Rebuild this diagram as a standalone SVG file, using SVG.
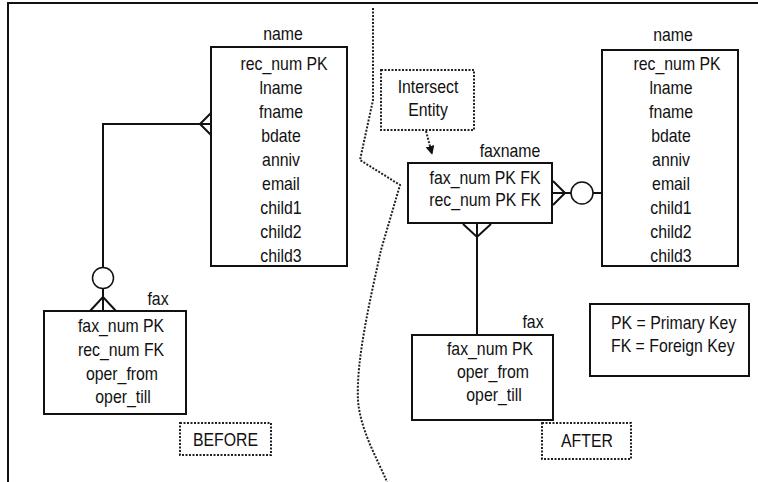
<svg xmlns="http://www.w3.org/2000/svg" width="758" height="482" viewBox="0 0 758 482">
<style>
text{font-family:"Liberation Sans",Arial,sans-serif;font-size:18px;fill:#111;transform-box:fill-box;transform-origin:center;transform:scaleX(0.88);}
.c{text-anchor:middle;}
.l{transform-origin:left center;}
.box{fill:#fff;stroke:#111;stroke-width:2;}
.dot{fill:none;stroke:#222;stroke-width:2;stroke-dasharray:2 1.5;}
.ln{fill:none;stroke:#111;stroke-width:2;}
.circ{fill:#fff;stroke:#111;stroke-width:1.5;}
</style>
<defs>
<marker id="ah" viewBox="0 0 10 10" refX="9" refY="5" markerWidth="9" markerHeight="9" markerUnits="userSpaceOnUse" orient="auto">
<path d="M0,0 L10,5 L0,10 z" fill="#111"/>
</marker>
</defs>
<rect width="758" height="482" fill="#fff"/>
<path class="ln" d="M8,482 V3 H758"/>
<path id="divider" class="dot" d="M373,8 L373,100 L360,160 L400,185 L381,250 C370,300 356,360 358,400 C360,430 378,460 387,482"/>

<g id="connectors">
<path class="ln" d="M211,124 H103 V311"/>
<path class="ln" d="M211,113 L200,124 L211,135"/>
<circle class="circ" cx="103" cy="278" r="10.5"/>
<path class="ln" d="M90,311 L103,297 L116,311"/>
<path class="ln" d="M552,193 H602"/>
<path class="ln" d="M553,181 L565,193 L553,205"/>
<circle class="circ" cx="582" cy="193" r="11"/>
<path class="ln" d="M477,223 V335"/>
<path class="ln" d="M463,224 L477,237 L491,224"/>
<path class="dot" d="M426,131 L432,154" marker-end="url(#ah)"/>
</g>

<g id="name-before">
<text class="c" x="283" y="40">name</text>
<rect class="box" x="211" y="47" width="136" height="219"/>
<text class="c" x="284" y="70">rec_num PK</text>
<text class="c" x="281" y="94">lname</text>
<text class="c" x="281" y="118">fname</text>
<text class="c" x="281" y="142">bdate</text>
<text class="c" x="281" y="166">anniv</text>
<text class="c" x="281" y="190">email</text>
<text class="c" x="281" y="214">child1</text>
<text class="c" x="281" y="238">child2</text>
<text class="c" x="281" y="262">child3</text>
</g>

<g id="fax-before">
<text class="c" x="158" y="305">fax</text>
<rect class="box" x="44" y="311" width="142" height="103"/>
<text class="c" x="121" y="332">fax_num PK</text>
<text class="c" x="121" y="356">rec_num FK</text>
<text class="c" x="122" y="380">oper_from</text>
<text class="c" x="123" y="403">oper_till</text>
</g>

<g id="before-label">
<rect class="dot" x="180" y="423" width="91" height="32"/>
<text class="c" x="225.5" y="446">BEFORE</text>
</g>

<g id="intersect-label">
<rect class="dot" x="381" y="70" width="93" height="60"/>
<text class="c" x="428" y="93">Intersect</text>
<text class="c" x="428" y="116">Entity</text>
</g>

<g id="faxname">
<text class="c" x="510" y="157">faxname</text>
<rect class="box" x="408" y="163" width="144" height="60"/>
<text class="c" x="485" y="184">fax_num PK FK</text>
<text class="c" x="485" y="206">rec_num PK FK</text>
</g>

<g id="name-after">
<text class="c" x="673" y="41">name</text>
<rect class="box" x="602" y="50" width="136" height="216"/>
<text class="c" x="677" y="70">rec_num PK</text>
<text class="c" x="671" y="94">lname</text>
<text class="c" x="671" y="118">fname</text>
<text class="c" x="671" y="142">bdate</text>
<text class="c" x="671" y="166">anniv</text>
<text class="c" x="671" y="190">email</text>
<text class="c" x="671" y="214">child1</text>
<text class="c" x="671" y="238">child2</text>
<text class="c" x="671" y="262">child3</text>
</g>

<g id="fax-after">
<text class="c" x="533" y="328">fax</text>
<rect class="box" x="412" y="335" width="141" height="85"/>
<text class="c" x="490" y="355">fax_num PK</text>
<text class="c" x="493" y="378">oper_from</text>
<text class="c" x="494" y="401">oper_till</text>
</g>

<g id="legend">
<rect class="box" x="590" y="304" width="159" height="72"/>
<text class="l" x="611" y="329">PK = Primary Key</text>
<text class="l" x="611" y="352">FK = Foreign Key</text>
</g>

<g id="after-label">
<rect class="dot" x="542" y="423" width="89" height="36"/>
<text class="c" x="587" y="447">AFTER</text>
</g>
</svg>
